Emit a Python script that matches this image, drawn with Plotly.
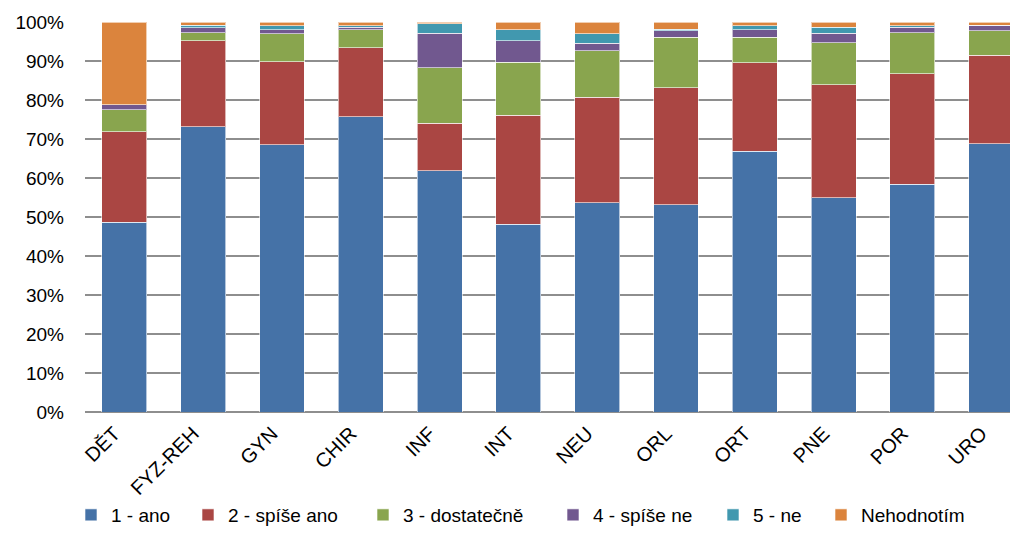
import plotly.graph_objects as go

categories = ["DĚT", "FYZ-REH", "GYN", "CHIR", "INF", "INT", "NEU", "ORL", "ORT", "PNE", "POR", "URO"]
series_names = ["1 - ano", "2 - spíše ano", "3 - dostatečně", "4 - spíše ne", "5 - ne", "Nehodnotím"]

ano = [48.6, 73.1, 68.5, 75.7, 61.9, 48.2, 53.6, 53.2, 66.9, 55.0, 58.4, 68.8]
spise_ano = [23.3, 22.1, 21.3, 17.7, 12.2, 27.9, 27.1, 29.9, 22.6, 28.9, 28.3, 22.7]
dostatecne = [5.6, 2.1, 7.2, 4.6, 14.2, 13.6, 11.9, 13.0, 6.6, 10.8, 10.6, 6.2]
spise_ne = [1.3, 1.2, 1.0, 0.7, 8.8, 5.5, 2.0, 1.6, 1.9, 2.4, 1.4, 1.5]
ne = [0.0, 0.7, 1.0, 0.3, 2.5, 2.8, 2.4, 0.4, 1.0, 1.5, 0.3, 0.0]
nehodnotim = [21.2, 0.8, 1.0, 1.0, 0.4, 2.0, 3.0, 1.9, 1.0, 1.4, 1.0, 0.8]

colors = ["#4572A7", "#AA4643", "#89A54E", "#71588F", "#4198AF", "#DB843D"]
all_series = [ano, spise_ano, dostatecne, spise_ne, ne, nehodnotim]

# page has an 8px body margin; figure is sized to fit the 1018x534 window
W, H = 1010, 526
OFF = 8
# legend marker centre positions (window pixels) for the separate legend entries
legend_px = [90, 207, 382, 572, 732, 840]

font_family = "Liberation Sans, Arial, sans-serif"
fig = go.Figure()
legend_layout = {}
for i, (name, vals, col) in enumerate(zip(series_names, all_series, colors)):
    lname = "legend" if i == 0 else f"legend{i + 1}"
    fig.add_trace(go.Bar(
        x=categories, y=[v / 100 for v in vals], name=name,
        marker=dict(color=col, line=dict(color="rgba(255,255,255,0.6)", width=1)),
        legend=lname,
    ))
    legend_layout[lname] = dict(
        xref="container", yref="container",
        x=(legend_px[i] - OFF - 19) / W, xanchor="left",
        y=0, yanchor="bottom",
        font=dict(size=19, family=font_family),
        bgcolor="rgba(0,0,0,0)", borderwidth=0,
        orientation="h",
    )

fig.update_layout(
    barmode="stack",
    bargap=0.43,
    width=W, height=H,
    margin=dict(l=85 - OFF, r=0, t=22 - OFF, b=H - (412 - OFF)),
    plot_bgcolor="white", paper_bgcolor="white",
    font=dict(family=font_family, size=19, color="#000000"),
    xaxis=dict(
        range=[-0.5, 11.34],
        tickangle=-45,
        tickfont=dict(size=20),
        showgrid=False,
        showline=False,
        ticks="",
        ticklabelshift=-10,
        ticklabelstandoff=5,
        automargin=False,
    ),
    yaxis=dict(
        range=[0, 1],
        tickvals=[i / 10 for i in range(11)],
        tickformat=".0%",
        showgrid=True, gridcolor="#8e8e8e", gridwidth=1.5,
        zeroline=True, zerolinecolor="#8e8e8e", zerolinewidth=1.5,
        tickfont=dict(size=19),
        ticklabelstandoff=20,
        ticks="",
        automargin=False,
    ),
    showlegend=True,
    **legend_layout,
)

fig.write_html("out.html")
